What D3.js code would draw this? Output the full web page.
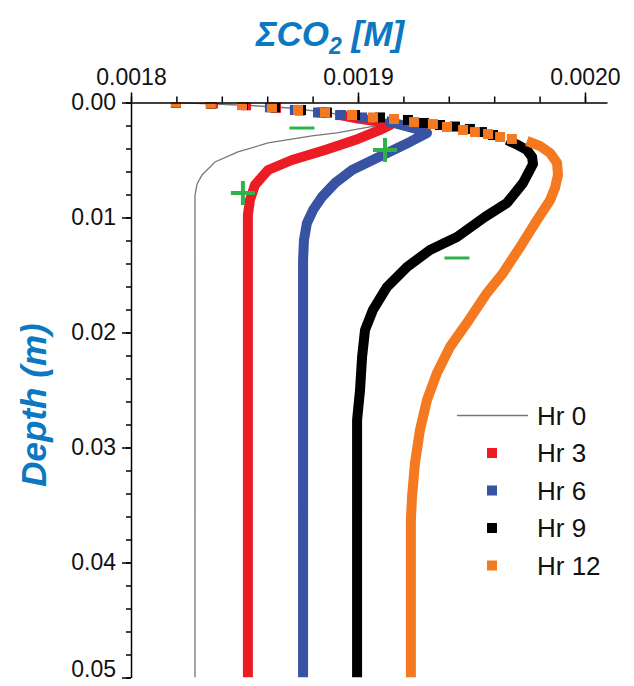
<!DOCTYPE html>
<html>
<head>
<meta charset="utf-8">
<script src="https://cdn.jsdelivr.net/npm/d3@7"></script>
<style>
  body { margin: 0; background: #fff; }
  text { font-family: "Liberation Sans", Arial, sans-serif; }
</style>
</head>
<body>
<div id="chart"></div>
<script>
// each point: [sum CO2 (M), depth (m)]
const hr0 = [
  [0.0018198, 0], [0.0018370, 0.00013], [0.0018524, 0.00026], [0.0018700, 0.00048],
  [0.0018877, 0.00091], [0.0019009, 0.00143], [0.0019097, 0.00196], [0.0019022, 0.00222],
  [0.0018907, 0.00265], [0.0018797, 0.00291], [0.0018604, 0.00352], [0.0018471, 0.0043],
  [0.0018370, 0.00517], [0.0018313, 0.0063], [0.0018291, 0.00709], [0.0018282, 0.00804],
  [0.0018282, 0.05]
];

// near-surface points, spaced apart
const hr3Top = [
  [0.0018198, 0], [0.0018361, 0.00009], [0.0018507, 0.00024], [0.0018639, 0.00046],
  [0.0018744, 0.0007], [0.0018841, 0.00087], [0.0018921, 0.00109]
];
// deeper points, close together
const hr3Profile = [
  [0.0018921, 0.00109], [0.0019000, 0.00139], [0.0019075, 0.00161], [0.0019141, 0.00196],
  [0.0019097, 0.00239], [0.0019000, 0.00317], [0.0018855, 0.00413], [0.0018709, 0.005],
  [0.0018604, 0.00587], [0.0018546, 0.00717], [0.0018524, 0.00848], [0.0018515, 0.00978],
  [0.0018515, 0.05]
];

const hr6Top = [
  [0.0018198, 0], [0.0018352, 0.00009], [0.0018489, 0.00022], [0.0018612, 0.00042],
  [0.0018722, 0.00065], [0.0018824, 0.00087], [0.0018925, 0.00109], [0.0019018, 0.0013]
];
const hr6Profile = [
  [0.0019123, 0.00161], [0.0019207, 0.00204], [0.0019273, 0.00239], [0.0019304, 0.00265],
  [0.0019229, 0.00343], [0.0019110, 0.00457], [0.0018974, 0.00587], [0.0018899, 0.007],
  [0.0018841, 0.00822], [0.0018802, 0.00935], [0.0018775, 0.01048], [0.0018762, 0.01196],
  [0.0018758, 0.0137], [0.0018758, 0.05]
];

const hr9Top = [
  [0.0018198, 0], [0.0018352, 0.00009], [0.0018493, 0.00022], [0.0018634, 0.00042],
  [0.0018749, 0.00065], [0.0018863, 0.00087], [0.0018987, 0.00109], [0.0019097, 0.0013],
  [0.0019220, 0.00152], [0.0019291, 0.00178], [0.0019361, 0.00196], [0.0019427, 0.00209],
  [0.0019493, 0.0023], [0.0019546, 0.00257], [0.0019595, 0.00283]
];
const hr9Profile = [
  [0.0019656, 0.00326], [0.0019705, 0.0037], [0.0019744, 0.00413], [0.0019767, 0.00474],
  [0.0019771, 0.00535], [0.0019727, 0.007], [0.0019656, 0.00874], [0.0019559, 0.00996],
  [0.0019436, 0.0117], [0.0019317, 0.01283], [0.0019216, 0.0143], [0.0019128, 0.01604],
  [0.0019066, 0.01804], [0.0019031, 0.01978], [0.0019018, 0.02213], [0.0019009, 0.025],
  [0.0018996, 0.02761], [0.0018996, 0.05]
];

const hr12Top = [
  [0.0018198, 0], [0.0018352, 0.00009], [0.0018489, 0.00022], [0.0018621, 0.00042],
  [0.0018736, 0.00065], [0.0018855, 0.00087], [0.0018974, 0.00109], [0.0019066, 0.0013],
  [0.0019159, 0.00143], [0.0019247, 0.0017], [0.0019330, 0.00187], [0.0019392, 0.00213],
  [0.0019463, 0.00239], [0.0019515, 0.00257], [0.0019573, 0.00274], [0.0019626, 0.003],
  [0.0019678, 0.00317]
];
const hr12Profile = [
  [0.0019744, 0.00335], [0.0019802, 0.00378], [0.0019846, 0.00439], [0.0019877, 0.00526],
  [0.0019881, 0.0063], [0.0019868, 0.00743], [0.0019846, 0.0085], [0.0019789, 0.01022],
  [0.0019714, 0.01257], [0.0019639, 0.01483], [0.0019568, 0.01657], [0.0019480, 0.01917],
  [0.0019405, 0.02126], [0.0019348, 0.02352], [0.0019304, 0.02587], [0.0019273, 0.02848],
  [0.0019251, 0.03135], [0.0019238, 0.0343], [0.0019233, 0.0363], [0.0019233, 0.05]
];

// green annotation marks
const plusMarks = [[0.0018493, 0.00787], [0.0019119, 0.00413]];
const minusMarks = [[0.0018753, 0.00222], [0.0019436, 0.01352]];

const legendLabels = ["Hr 0", "Hr 3", "Hr 6", "Hr 9", "Hr 12"];
const xTickValues = [0.0018, 0.0019, 0.0020];
const yTickValues = [0, 0.01, 0.02, 0.03, 0.04, 0.05];

const colors = ["#777777", "#ed1c24", "#3953a4", "#000000", "#f47920"];
const titleBlue = "#0b78c1";
const green = "#2db34a";

// chart dimensions
const margin = { top: 102.5, left: 131 };
const width = 476;
const height = 575;

const svg = d3.select("#chart")
  .append("svg")
  .attr("width", 634)
  .attr("height", 686);

const x = d3.scaleLinear()
  .domain([0.0018, 0.0020097])
  .range([margin.left, margin.left + width]);

const y = d3.scaleLinear()
  .domain([0, 0.05])
  .range([margin.top, margin.top + height]);

svg.append("clipPath")
  .attr("id", "plotClip")
  .append("rect")
  .attr("x", margin.left)
  .attr("y", margin.top)
  .attr("width", width)
  .attr("height", height);

const plot = svg.append("g").attr("clip-path", "url(#plotClip)");

const line = d3.line()
  .x((d) => x(d[0]))
  .y((d) => y(d[1]));

// Hr 0 thin line
plot.append("path")
  .attr("d", line(hr0))
  .style("fill", "none")
  .style("stroke", colors[0])
  .style("stroke-width", 1.3);

const series = [
  { top: hr3Top, profile: hr3Profile, color: colors[1] },
  { top: hr6Top, profile: hr6Profile, color: colors[2] },
  { top: hr9Top, profile: hr9Profile, color: colors[3] },
  { top: hr12Top, profile: hr12Profile, color: colors[4] }
];

const sq = 10;

series.forEach((s) => {
  const g = plot.append("g");
  // dense part drawn as a thick band
  g.append("path")
    .attr("d", line(s.profile))
    .style("fill", "none")
    .style("stroke", s.color)
    .style("stroke-width", 10)
    .style("stroke-linejoin", "round");
  // sparse near-surface markers
  g.selectAll("rect")
    .data(s.top)
    .enter()
    .append("rect")
    .attr("x", (d) => x(d[0]) - sq / 2)
    .attr("y", (d) => y(d[1]) - sq / 2)
    .attr("width", sq)
    .attr("height", sq)
    .style("fill", s.color);
});

// green + and - marks
const marks = svg.append("g")
  .style("stroke", green);

plusMarks.forEach((d) => {
  marks.append("line")
    .attr("x1", x(d[0]) - 12).attr("x2", x(d[0]) + 12)
    .attr("y1", y(d[1])).attr("y2", y(d[1]))
    .style("stroke-width", 4);
  marks.append("line")
    .attr("x1", x(d[0])).attr("x2", x(d[0]))
    .attr("y1", y(d[1]) - 12).attr("y2", y(d[1]) + 12)
    .style("stroke-width", 4);
});

minusMarks.forEach((d) => {
  marks.append("line")
    .attr("x1", x(d[0]) - 12.5).attr("x2", x(d[0]) + 12.5)
    .attr("y1", y(d[1])).attr("y2", y(d[1]))
    .style("stroke-width", 3);
});

// top axis: minor ticks then major ticks
svg.append("g")
  .attr("transform", "translate(0," + margin.top + ")")
  .call(d3.axisTop(x)
    .tickValues(d3.range(0, 11).map((i) => 0.0018 + i * 0.00002))
    .tickSize(6)
    .tickSizeOuter(0)
    .tickFormat(""))
  .call((g) => g.select(".domain").remove())
  .selectAll("line").style("stroke-width", 1.5);

svg.append("g")
  .attr("class", "axis")
  .attr("transform", "translate(0," + margin.top + ")")
  .call(d3.axisTop(x)
    .tickValues(xTickValues)
    .tickSize(10)
    .tickSizeOuter(0)
    .tickPadding(8)
    .tickFormat(d3.format(".4f")));

// left axis: minor ticks then major ticks
svg.append("g")
  .attr("transform", "translate(" + margin.left + ",0)")
  .call(d3.axisLeft(y)
    .tickValues(d3.range(0, 26).map((i) => i * 0.002))
    .tickSize(5)
    .tickSizeOuter(0)
    .tickFormat(""))
  .call((g) => g.select(".domain").remove())
  .selectAll("line").style("stroke-width", 1.5);

const yAxis = svg.append("g")
  .attr("class", "axis")
  .attr("transform", "translate(" + margin.left + ",0)")
  .call(d3.axisLeft(y)
    .tickValues(yTickValues)
    .tickSize(9)
    .tickSizeOuter(0)
    .tickPadding(6)
    .tickFormat(d3.format(".2f")));

// keep the bottom label inside the page
yAxis.selectAll(".tick text")
  .filter((d) => d === 0.05)
  .attr("dy", "-0.05em");

svg.selectAll(".axis .domain").style("stroke-width", 1.5);
svg.selectAll(".axis line").style("stroke-width", 1.5);
svg.selectAll(".axis text")
  .style("font-family", "'Liberation Sans', Arial, sans-serif")
  .style("font-size", "23px")
  .style("fill", "#111");

// axis titles
const title = svg.append("text")
  .attr("x", 330)
  .attr("y", 46)
  .attr("text-anchor", "middle")
  .style("font-size", "35px")
  .style("font-weight", "bold")
  .style("font-style", "italic")
  .style("fill", titleBlue);
title.append("tspan").text("ΣCO");
title.append("tspan").attr("dy", 8).style("font-size", "23px").text("2");
title.append("tspan").attr("dy", -8).text(" [M]");

svg.append("text")
  .attr("transform", "translate(46,405) rotate(-90)")
  .attr("text-anchor", "middle")
  .style("font-size", "35px")
  .style("font-weight", "bold")
  .style("font-style", "italic")
  .style("fill", titleBlue)
  .text("Depth (m)");

// legend
const legend = svg.append("g");
const rowY = (i) => 415.5 + i * 37.5;

legendLabels.forEach((label, i) => {
  if (i === 0) {
    legend.append("line")
      .attr("x1", 457).attr("x2", 528)
      .attr("y1", rowY(i)).attr("y2", rowY(i))
      .style("stroke", colors[0])
      .style("stroke-width", 1.3);
  } else {
    legend.append("rect")
      .attr("x", 492 - 5)
      .attr("y", rowY(i) - 5)
      .attr("width", 10)
      .attr("height", 10)
      .style("fill", colors[i]);
  }
  legend.append("text")
    .attr("x", 537)
    .attr("y", rowY(i))
    .attr("dy", "0.35em")
    .style("font-size", "26px")
    .style("fill", "#111")
    .text(label);
});
</script>
</body>
</html>
